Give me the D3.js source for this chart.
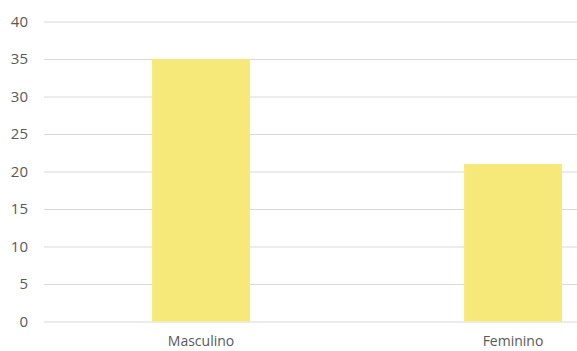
<!DOCTYPE html>
<html>
<head>
<meta charset="utf-8">
<script src="https://cdn.jsdelivr.net/npm/d3@7"></script>
<style>
  body { margin: 0; background: #fff; }
  svg { display: block; }
  .tick text { font-family: "Open Sans", sans-serif; fill: #595959; }
</style>
</head>
<body>
<script>
var w = 577;
var h = 351;

// Data
var categories = ["Masculino", "Feminino"];
var values = [35, 21];
var yTicks = [0, 5, 10, 15, 20, 25, 30, 35, 40];

var svg = d3.select("body")
            .append("svg")
            .attr("width", w)
            .attr("height", h);

// plot area is wider than the picture, right side is cut off
var xScale = d3.scaleBand()
               .domain(categories)
               .range([45, 669])
               .paddingInner(0.686)
               .paddingOuter(0.343);

var yScale = d3.scaleLinear()
               .domain([0, 40])
               .range([321.5, 21.5]);

// gridlines
var yGrid = d3.axisLeft(yScale)
              .tickValues(yTicks)
              .tickSize(-(669 - 44))
              .tickFormat("");
svg.append("g")
   .attr("class", "grid")
   .attr("transform", "translate(44,0)")
   .call(yGrid)
   .call(function(g) {
       g.select(".domain").remove();
       g.selectAll("line").attr("stroke", "#d9d9d9").attr("stroke-width", 1);
   });

// bars
svg.selectAll("rect.bar")
   .data(values)
   .enter()
   .append("rect")
   .attr("class", "bar")
   .attr("x", function(d, i) { return xScale(categories[i]); })
   .attr("y", function(d) { return yScale(d); })
   .attr("width", xScale.bandwidth())
   .attr("height", function(d) { return yScale(0) - yScale(d); })
   .attr("fill", "#f7e979");

// y axis labels
var yAxis = d3.axisLeft(yScale)
              .tickValues(yTicks)
              .tickSize(0)
              .tickPadding(0);
svg.append("g")
   .attr("transform", "translate(28,0)")
   .call(yAxis)
   .call(function(g) {
       g.select(".domain").remove();
       g.selectAll("text").attr("font-size", "15px");
   });

// x axis labels
var xAxis = d3.axisBottom(xScale)
              .tickSize(0)
              .tickPadding(15);
svg.append("g")
   .attr("transform", "translate(0,321.5)")
   .call(xAxis)
   .call(function(g) {
       g.select(".domain").remove();
       g.selectAll("text").attr("font-size", "14px");
   });
</script>
</body>
</html>
